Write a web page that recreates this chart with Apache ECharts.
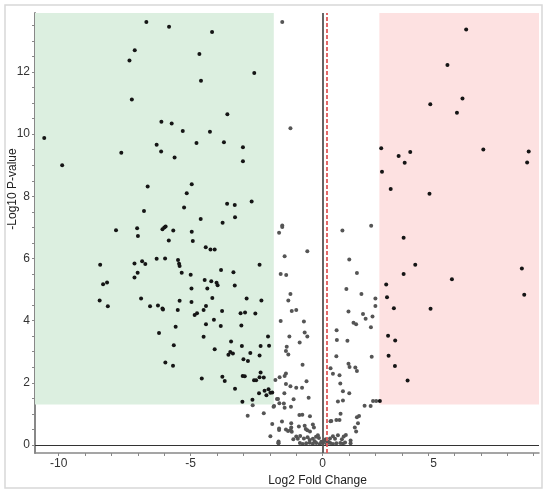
<!DOCTYPE html>
<html lang="en">
<head>
<meta charset="UTF-8">
<title>Volcano plot</title>
<style>html,body{margin:0;padding:0;background:#fff;}</style>
</head>
<body>
<div id="chart" style="width:550px;height:497px;"></div>
<script src="https://cdn.jsdelivr.net/npm/echarts@6/dist/echarts.min.js"></script>
<script>
// axis ticks / labels
var xTicks = [-10, -9, -8, -7, -6, -5, -4, -3, -2, -1, 0, 1, 2, 3, 4, 5, 6, 7, 8];
var xTickLabels = [-10, -5, 0, 5];
var yTicks = [0, 0.5, 1, 1.5, 2, 2.5, 3, 3.5, 4, 4.5, 5, 5.5, 6, 6.5, 7, 7.5, 8, 8.5, 9, 9.5, 10, 10.5, 11, 11.5, 12, 12.5, 13, 13.5];
var yTickLabels = [0, 2, 4, 6, 8, 10, 12];

// thresholds
var fcCenter = 0.15;
var fcDown = -1.85;
var fcUp = 2.15;
var pCut = 1.3;

// down-regulated (green area) [log2FC, -log10 p]
var downPoints = [
  [-6.68,13.61],[-5.82,13.46],[-4.19,13.29],[-7.12,12.70],[-7.32,12.37],[-4.67,12.58],[-4.61,11.72],[-2.59,11.97],
  [-7.23,11.12],[-3.61,10.64],[-6.11,10.40],[-5.72,10.34],[-5.30,10.10],[-4.27,10.08],[-10.55,9.88],[-6.29,9.66],
  [-4.78,9.72],[-3.74,9.74],[-3.02,9.58],[-7.63,9.40],[-6.12,9.44],[-5.61,9.25],[-3.02,9.13],[-9.87,9.00],
  [-6.63,8.32],[-4.96,8.39],[-5.15,8.10],[-3.62,7.76],[-3.33,7.72],[-2.69,7.83],[-6.77,7.53],[-5.25,7.64],
  [-4.62,7.27],[-3.32,7.33],[-3.79,7.15],[-7.83,6.91],[-7.03,6.97],[-7.00,6.72],[-6.07,6.94],[-6.00,7.00],
  [-5.95,7.03],[-5.66,6.90],[-4.96,6.86],[-5.83,6.58],[-4.92,6.56],[-4.43,6.36],[-4.25,6.29],[-4.09,6.29],
  [-8.43,5.80],[-7.13,5.84],[-6.84,5.91],[-6.72,5.82],[-6.29,5.99],[-5.97,6.00],[-5.48,5.95],[-5.44,5.83],
  [-5.42,5.76],[-7.01,5.54],[-7.13,5.39],[-5.34,5.54],[-5.00,5.48],[-3.85,5.63],[-3.38,5.56],[-2.39,5.80],
  [-8.32,5.17],[-8.17,5.23],[-4.47,5.31],[-4.22,5.27],[-4.02,5.22],[-3.98,5.14],[-4.37,5.03],[-4.97,5.03],
  [-3.33,5.13],[-8.45,4.65],[-6.88,4.71],[-8.14,4.46],[-6.54,4.46],[-6.24,4.49],[-6.07,4.39],[-6.05,4.36],
  [-5.42,4.64],[-4.97,4.60],[-4.18,4.73],[-5.49,4.34],[-4.51,4.34],[-4.42,4.47],[-4.85,4.18],[-4.76,4.24],
  [-3.81,4.31],[-2.88,4.71],[-2.32,4.65],[-3.11,4.24],[-2.94,4.26],[-2.55,4.23],[-4.12,4.03],[-5.57,3.80],
  [-4.42,3.88],[-3.86,3.83],[-3.08,3.84],[-6.20,3.60],[-4.51,3.48],[-2.07,3.49],[-3.47,3.33],[-5.64,3.21],
  [-3.06,3.18],[-2.35,3.18],[-2.03,3.19],[-4.09,3.08],[-3.50,2.99],[-3.57,2.90],[-3.40,2.94],[-2.74,2.96],
  [-2.39,2.88],[-3.00,2.76],[-2.83,2.70],[-5.96,2.65],[-5.67,2.55],[-2.35,2.33],[-4.58,2.14],[-3.80,2.19],
  [-3.71,2.06],[-3.03,2.22],[-2.95,2.21],[-2.60,2.08],[-2.52,2.08],[-2.39,2.18],[-2.23,2.17],[-3.32,1.81],
  [-2.41,1.66],[-2.20,1.74],[-2.05,1.79],[-2.13,1.60],[-1.98,1.68],[-1.91,1.69],[-3.04,1.39],[-2.66,1.45]
];

// up-regulated (red area)
var upPoints = [
  [5.44,13.37],[4.73,12.23],[5.30,11.15],[4.08,10.96],[5.09,10.69],[2.22,9.55],[2.88,9.30],[3.32,9.43],
  [3.11,9.08],[6.09,9.51],[7.81,9.44],[7.75,9.09],[2.25,8.79],[2.58,8.24],[4.05,8.08],[3.07,6.67],
  [3.51,5.80],[3.07,5.50],[2.41,5.16],[2.44,4.75],[2.70,4.40],[4.09,4.38],[4.90,5.33],[7.55,5.68],
  [7.64,4.83],[2.48,3.51],[2.75,3.36],[2.50,2.87],[2.74,2.54],[3.22,2.07],[2.17,1.41]
];

// not significant
var nsPoints = [
  [-1.53,13.61],[-1.22,10.19],[-1.53,7.06],[-1.53,7.01],[-1.65,6.83],[0.75,6.90],[1.84,7.05],
  [-1.44,6.07],[-0.58,6.23],[1.01,5.97],[-1.59,5.50],[-1.38,5.47],[1.30,5.53],[0.90,5.02],[1.47,4.86],
  [-1.22,4.86],[-1.30,4.65],[2.00,4.71],[2.00,4.47],[-1.17,4.31],[-1.00,4.34],[0.98,4.29],[1.53,4.21],
  [1.63,4.06],[1.89,4.13],[-1.59,3.99],[-0.71,3.97],[1.17,3.93],[1.27,3.88],[1.83,3.79],[-0.68,3.62],
  [-0.58,3.49],[-1.26,3.49],[0.53,3.69],[0.54,3.38],[0.94,3.35],[-0.87,3.30],[-1.36,3.16],[-1.39,3.02],
  [-1.30,2.91],[0.52,2.85],[1.86,2.84],[-0.76,2.58],[0.98,2.61],[1.02,2.51],[1.24,2.49],[1.30,2.38],
  [0.30,2.47],[0.39,2.29],[0.64,2.24],[-1.39,2.30],[-1.44,2.22],[-1.63,2.18],[-1.79,2.09],[-0.61,2.05],
  [-1.39,1.96],[-1.22,1.89],[-1.00,1.84],[-0.78,1.84],[0.67,1.98],[0.77,1.73],[1.01,1.66],[-1.45,1.66],
  [-0.53,1.52],[0.58,1.40],[0.77,1.43],[-1.69,1.48],[-1.64,1.34],[-1.10,1.47],[-1.20,1.23],[-1.47,1.33],
  [1.59,1.26],[1.82,1.25],[1.91,1.41],[2.03,1.41],[-0.88,0.96],[-0.77,0.97],[-0.48,0.92],[0.68,1.00],
  [0.64,0.80],[0.30,0.76],[1.30,0.89],[1.38,0.93],[1.34,0.70],[1.27,0.43],[-1.54,0.75],[-1.19,0.70],
  [-0.90,0.59],[-0.68,0.62],[-0.37,0.66],[-0.33,0.56],[-1.65,0.48],[-1.39,0.50],[-1.31,0.45],[-1.17,0.42],
  [-0.64,0.51],[-0.58,0.47],[-0.48,0.43],[-1.11,0.18],[-1.00,0.27],[-0.94,0.20],[-0.85,0.29],[-0.71,0.21],
  [-0.57,0.25],[-0.49,0.16],[-0.37,0.20],[-0.25,0.26],[-0.18,0.31],[-0.14,0.22],[0.39,0.28],[0.47,0.20],
  [0.58,0.31],[0.73,0.18],[0.80,0.27],[0.88,0.32],[-1.67,0.05],[-0.86,0.06],[-0.75,0.03],[-0.62,0.05],
  [-0.49,0.07],[-0.37,0.04],[-0.24,0.06],[-0.11,0.03],[0.01,0.05],[0.16,0.04],[0.29,0.06],[0.39,0.03],
  [0.52,0.05],[0.67,0.06],[0.77,0.04],[1.06,0.05],[-2.65,1.28],[-2.84,0.94],[-2.23,1.02],[-1.86,1.23],
  [-1.91,0.67],[-1.98,0.28],[-1.73,1.48],[-1.68,0.07],[-1.84,1.25],[-1.44,1.20],[-1.65,0.53],[-1.19,0.56],
  [-1.21,0.48],[-1.67,0.11],[0.33,0.77],[0.52,0.80],[1.22,0.56],[1.06,0.14],[0.85,0.08],[-0.30,0.12],
  [0.10,0.15],[0.20,0.10],[0.05,0.12],[0.12,0.18],[0.22,0.09],[-0.05,0.10],[0.28,0.21]
];

var xMin = -10.9, xMax = 8.2, yMin = -0.26, yMax = 13.9;
var font = 'Liberation Sans';

var myChart = echarts.init(document.getElementById('chart'));

var option = {
  animation: false,
  backgroundColor: '#fff',
  grid: { left: 35, right: 11, top: 13, bottom: 44, containLabel: false, outerBoundsMode: 'none' },
  graphic: [{
    type: 'rect',
    shape: { x: 5, y: 5, width: 537, height: 483 },
    style: { fill: 'none', stroke: '#d8d8d8', lineWidth: 1.5 },
    z: 0
  }],
  xAxis: {
    type: 'value',
    min: xMin,
    max: xMax,
    name: 'Log2 Fold Change',
    nameLocation: 'middle',
    nameGap: 20,
    nameTextStyle: { color: '#222', fontSize: 12, fontFamily: font, padding: [0, 0, 0, 61] },
    axisLine: { onZero: false, lineStyle: { color: '#888', width: 1.5 } },
    axisTick: { customValues: xTicks, length: 3, lineStyle: { color: '#888' } },
    axisLabel: {
      customValues: xTickLabels,
      margin: 5,
      color: '#333',
      fontSize: 12,
      fontFamily: font,
      formatter: function (v) { return v === 5 ? '{s|5}' : String(v); },
      rich: { s: { padding: [0, 42, 0, 0], fontSize: 12, fontFamily: font, color: '#333' } }
    },
    splitLine: { show: false }
  },
  yAxis: {
    type: 'value',
    min: yMin,
    max: yMax,
    name: '-Log10 P-value',
    nameLocation: 'middle',
    nameGap: 16,
    nameMoveOverlap: false,
    nameTextStyle: { color: '#222', fontSize: 12, fontFamily: font, padding: [0, 0, 0, 88] },
    axisLine: { show: true, onZero: false, lineStyle: { color: '#888', width: 2 } },
    axisTick: { show: true, customValues: yTicks, length: 3, lineStyle: { color: '#888' } },
    axisLabel: { customValues: yTickLabels, margin: 5, color: '#333', fontSize: 12, fontFamily: font },
    splitLine: { show: false }
  },
  series: [
    {
      type: 'line',
      data: [],
      silent: true,
      z: 1,
      markArea: {
        silent: true,
        data: [
          [{ xAxis: xMin, yAxis: pCut, itemStyle: { color: '#dcefe0' } }, { xAxis: fcDown, yAxis: yMax }],
          [{ xAxis: fcUp, yAxis: pCut, itemStyle: { color: '#fde1e1' } }, { xAxis: xMax, yAxis: yMax }]
        ]
      },
      markLine: {
        silent: true,
        symbol: 'none',
        label: { show: false },
        data: [
          { yAxis: 0, lineStyle: { color: '#333', width: 1, type: 'solid' } },
          { xAxis: 0, lineStyle: { color: '#555', width: 1.8, type: 'solid' } },
          { xAxis: fcCenter, lineStyle: { color: '#e05a5a', width: 1.8, type: [4, 2] } }
        ]
      }
    },
    {
      name: 'ns',
      type: 'scatter',
      data: nsPoints,
      symbolSize: 4,
      z: 3,
      itemStyle: { color: '#555', opacity: 1 }
    },
    {
      name: 'down',
      type: 'scatter',
      data: downPoints,
      symbolSize: 4,
      z: 3,
      itemStyle: { color: '#151515', opacity: 1 }
    },
    {
      name: 'up',
      type: 'scatter',
      data: upPoints,
      symbolSize: 4,
      z: 3,
      itemStyle: { color: '#151515', opacity: 1 }
    }
  ]
};
myChart.setOption(option);
</script>
</body>
</html>
